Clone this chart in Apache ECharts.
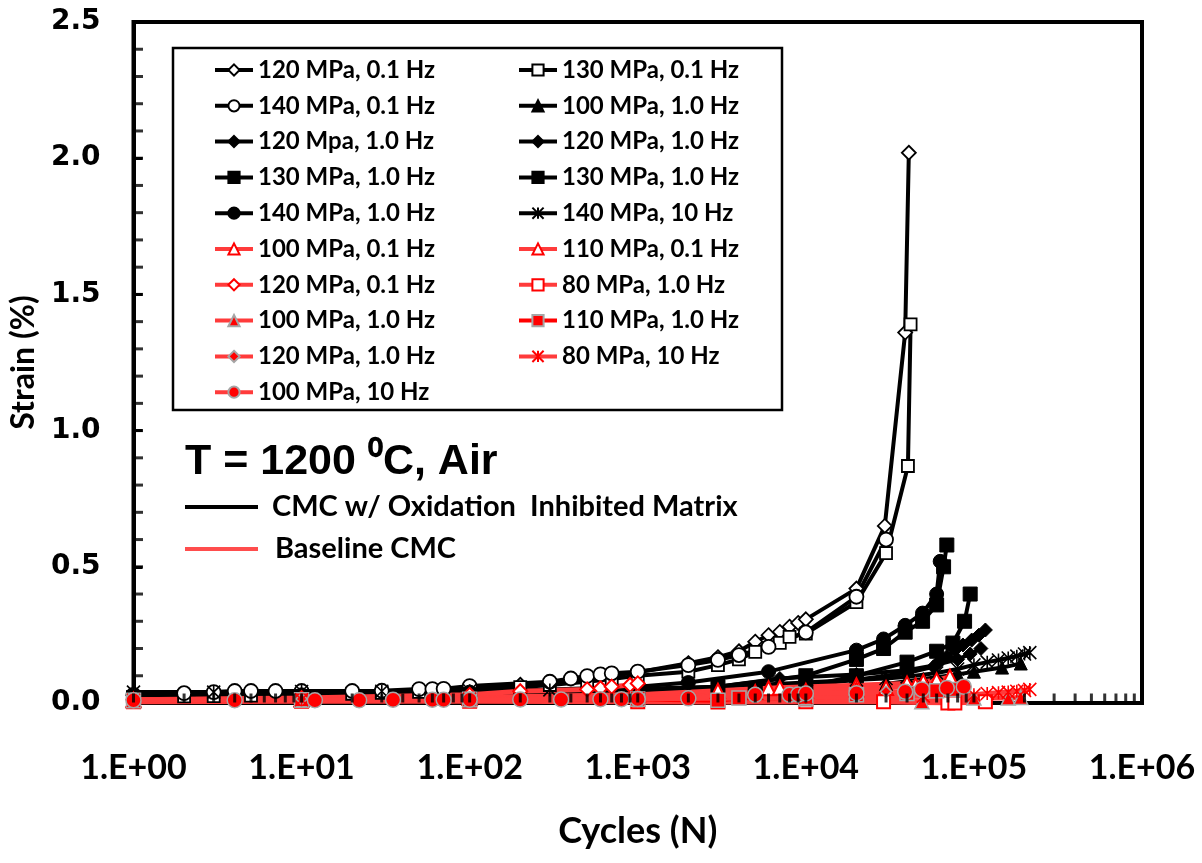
<!DOCTYPE html>
<html>
<head>
<meta charset="utf-8">
<script src="https://cdn.jsdelivr.net/npm/echarts@6/dist/echarts.min.js"></script>
<style>
  html, body { margin: 0; padding: 0; background: #fff; }
  #chart { width: 1202px; height: 863px; }
</style>
</head>
<body>
<div id="chart"></div>
<script>
// ---- Creep-fatigue strain accumulation data: [cycles, strain %] ----
// CMC with oxidation-inhibited matrix (black)
const cmc120_01 = [[1,0.028],[2,0.03],[3,0.031],[5,0.033],[10,0.036],[20,0.04],[30,0.043],[50,0.047],[100,0.056],[200,0.067],[300,0.076],[500,0.09],[700,0.1],[1000,0.113],[2000,0.146],[3000,0.168],[4000,0.19],[5000,0.225],[6000,0.249],[7000,0.261],[8000,0.28],[9000,0.294],[10000,0.307],[20000,0.42],[29500,0.65],[39000,1.36],[41000,2.02]];
const cmc130_01 = [[1,0.022],[2,0.024],[3,0.025],[5,0.027],[10,0.03],[20,0.034],[30,0.037],[50,0.041],[100,0.048],[200,0.058],[300,0.066],[500,0.078],[700,0.088],[1000,0.1],[2000,0.115],[3000,0.139],[4000,0.16],[5000,0.188],[7000,0.221],[8000,0.243],[10000,0.255],[20000,0.37],[30000,0.55],[40500,0.87],[42000,1.39]];
const cmc140_01 = [[1,0.03],[2,0.036],[3,0.04],[4,0.044],[5,0.044],[7,0.044],[10,0.044],[20,0.044],[30,0.045],[50,0.051],[60,0.051],[70,0.052],[100,0.062],[300,0.078],[400,0.09],[500,0.099],[600,0.105],[700,0.109],[1000,0.115],[2000,0.139],[3000,0.158],[4000,0.176],[6000,0.206],[10000,0.259],[20000,0.39],[30000,0.6]];
const cmc100_1 = [[1,0.015],[10,0.018],[100,0.022],[1000,0.03],[3000,0.036],[10000,0.05],[30000,0.07],[50000,0.088],[80000,0.105],[100000,0.115],[147000,0.13],[190000,0.145]];
const cmc120_1a = [[1,0.018],[10,0.022],[100,0.027],[1000,0.035],[5000,0.05],[10000,0.065],[20000,0.085],[40000,0.11],[57500,0.133],[62000,0.152],[69000,0.17],[77000,0.194],[86000,0.213],[97000,0.231],[107000,0.249],[117000,0.268]];
const cmc120_1b = [[1,0.016],[10,0.02],[100,0.025],[1000,0.04],[3000,0.06],[7000,0.09],[10000,0.095],[20000,0.105],[40000,0.12],[60000,0.14],[80000,0.16],[95000,0.18],[110000,0.2]];
const cmc130_1a = [[1,0.02],[10,0.024],[100,0.03],[1000,0.045],[3000,0.06],[10000,0.1],[20000,0.16],[29000,0.2],[39000,0.26],[49500,0.3],[60000,0.36],[66000,0.5],[69000,0.58]];
const cmc130_1b = [[1,0.015],[10,0.018],[100,0.023],[1000,0.03],[5000,0.045],[10000,0.06],[20000,0.1],[40000,0.15],[60000,0.19],[75000,0.22],[88000,0.3],[95000,0.4]];
const cmc140_1 = [[1,0.025],[10,0.03],[100,0.04],[1000,0.06],[2000,0.075],[6000,0.115],[20000,0.194],[29000,0.235],[39000,0.285],[49500,0.33],[60000,0.4],[63000,0.52]];
const cmc140_10 = [[1,0.04],[3,0.04],[10,0.042],[30,0.043],[100,0.045],[300,0.048],[1000,0.052],[3000,0.06],[10000,0.075],[20000,0.085],[30000,0.09],[40000,0.096],[60000,0.11],[80000,0.125],[100000,0.14],[120000,0.15],[140000,0.158],[160000,0.165],[180000,0.172],[200000,0.18],[215000,0.185]];
// Baseline CMC (red)
const base100_01 = [[1,0.01],[10,0.012],[100,0.018],[1000,0.03],[3000,0.045],[6000,0.054],[7000,0.056],[20000,0.065],[40000,0.072],[50000,0.078],[60000,0.084],[72000,0.096]];
const base110_01 = [[1,0.012],[10,0.015],[100,0.02],[1000,0.03],[5000,0.04],[10000,0.045],[20000,0.05],[30000,0.055],[45000,0.065]];
const base120_01 = [[1,0.012],[10,0.018],[100,0.03],[200,0.043],[500,0.05],[600,0.054],[700,0.06],[900,0.066],[1000,0.072]];
const base80_1 = [[1,0.005],[10,0.006],[100,0.006],[1000,0.005],[3000,0.004],[10000,0.005],[29000,0.005],[70000,0.0],[77000,0.0],[117000,0.005]];
const base100_1 = [[1,0.008],[10,0.01],[100,0.012],[1000,0.014],[10000,0.015],[49000,0.005],[100000,0.018],[160000,0.018],[190000,0.02]];
const base110_1 = [[1,0.01],[10,0.012],[100,0.014],[1000,0.015],[3000,0.01],[4000,0.018],[10000,0.02],[20000,0.03],[40000,0.035],[60000,0.045],[75000,0.05]];
const base120_1 = [[1,0.012],[10,0.015],[100,0.018],[1000,0.022],[5000,0.028],[10000,0.032],[20000,0.038],[30000,0.042]];
const base80_10 = [[1,0.01],[10,0.012],[100,0.014],[1000,0.016],[10000,0.02],[50000,0.025],[100000,0.03],[120000,0.035],[140000,0.038],[160000,0.04],[180000,0.043],[200000,0.046],[215000,0.05]];
const base100_10 = [[1,0.01],[4,0.01],[12,0.01],[22,0.01],[35,0.012],[60,0.012],[70,0.012],[100,0.012],[200,0.013],[350,0.013],[600,0.014],[800,0.014],[1000,0.015],[2000,0.017],[5000,0.03],[8000,0.03],[9000,0.031],[10000,0.035],[20000,0.036],[39000,0.041],[49000,0.05],[69000,0.055],[87000,0.06]];

// Legend labels, in series order (left column / right column alternate)
const seriesNames = [
  '120 MPa, 0.1 Hz', '130 MPa, 0.1 Hz',
  '140 MPa, 0.1 Hz', '100 MPa, 1.0 Hz',
  '120 Mpa, 1.0 Hz', '120 MPa, 1.0 Hz',
  '130 MPa, 1.0 Hz', '130 MPa, 1.0 Hz',
  '140 MPa, 1.0 Hz', '140 MPa, 10 Hz',
  '100 MPa, 0.1 Hz', '110 MPa, 0.1 Hz',
  '120 MPa, 0.1 Hz', '80 MPa, 1.0 Hz',
  '100 MPa, 1.0 Hz', '110 MPa, 1.0 Hz',
  '120 MPa, 1.0 Hz', '80 MPa, 10 Hz',
  '100 MPa, 10 Hz'
];
const seriesData = [
  cmc120_01, cmc130_01, cmc140_01, cmc100_1, cmc120_1a, cmc120_1b,
  cmc130_1a, cmc130_1b, cmc140_1, cmc140_10,
  base100_01, base110_01, base120_01, base80_1, base100_1, base110_1,
  base120_1, base80_10, base100_10
];
const yTickLabels = ['0.0', '0.5', '1.0', '1.5', '2.0', '2.5'];

// ---- styling ----
const BLACK = '#000000';
const RED_LINE = '#ff3b3b';
const RED = '#ff0000';
const GREY = '#a6a6a6';
const STAR = 'path://M5,0L5,10M0,0L10,10M10,0L0,10';

function blackOpen(symbol, size) {
  return { symbol, symbolSize: size, line: BLACK, lw: 4,
    item: { color: '#ffffff', borderColor: BLACK, borderWidth: 1.8 } };
}
function blackFilled(symbol, size) {
  return { symbol, symbolSize: size, line: BLACK, lw: 4,
    item: { color: BLACK, borderColor: BLACK, borderWidth: 1 } };
}
function redOpen(symbol, size) {
  return { symbol, symbolSize: size, line: RED_LINE, lw: 5,
    item: { color: '#ffffff', borderColor: RED, borderWidth: 2 } };
}
function redFilled(symbol, size, lineColor) {
  return { symbol, symbolSize: size, line: lineColor || RED_LINE, lw: 5,
    item: { color: RED, borderColor: GREY, borderWidth: 1.5 } };
}
const styles = [
  blackOpen('diamond', 14), blackOpen('rect', 12),
  blackOpen('circle', 14), blackFilled('triangle', 13),
  blackFilled('diamond', 14), blackFilled('diamond', 14),
  blackFilled('rect', 14), blackFilled('rect', 14),
  blackFilled('circle', 14),
  { symbol: STAR, symbolSize: 13, line: BLACK, lw: 4, item: { color: 'rgba(0,0,0,0)', borderColor: BLACK, borderWidth: 1.6 } },
  redOpen('triangle', 14), redOpen('triangle', 14),
  redOpen('diamond', 14), redOpen('rect', 13),
  redFilled('triangle', 14), redFilled('rect', 14, RED),
  redFilled('diamond', 11),
  { symbol: STAR, symbolSize: 13, line: RED_LINE, lw: 5, item: { color: 'rgba(0,0,0,0)', borderColor: RED, borderWidth: 1.6 } },
  redFilled('circle', 15)
];

// unique internal ids so repeated legend labels stay separate entries
const ids = seriesNames.map((n, i) => n + '\u200b'.repeat(i + 1));

const lineSeries = seriesData.map((d, i) => ({
  type: 'line',
  name: ids[i],
  data: d,
  symbol: styles[i].symbol,
  symbolSize: styles[i].symbolSize,
  showAllSymbol: true,
  lineStyle: { color: styles[i].line, width: styles[i].lw },
  itemStyle: styles[i].item,
  emphasis: { disabled: true },
  z: 2
}));

// decade and 2..9 sub-decade tick positions on the cycles axis
const xTickValues = [];
for (let k = 0; k <= 6; k++) {
  xTickValues.push([Math.pow(10, k), 0]);
  if (k < 6) for (let m = 2; m <= 9; m++) xTickValues.push([m * Math.pow(10, k), 0]);
}
// 0.1 steps on the strain axis
const yTickValues = [];
for (let i = 1; i < 25; i++) yTickValues.push([1, i / 10]);

// inward tick marks, positioned by the axes themselves
const xTickMarks = {
  type: 'scatter', data: xTickValues, silent: true, clip: false, z: 4,
  symbol: 'rect', symbolSize: [3, 9], symbolOffset: [0, -5],
  itemStyle: { color: BLACK }, emphasis: { disabled: true }
};
const yTickMarks = {
  type: 'scatter', data: yTickValues, silent: true, clip: false, z: 4,
  symbol: 'rect', symbolSize: [9, 3], symbolOffset: [5, 0],
  itemStyle: { color: BLACK }, emphasis: { disabled: true }
};

const legendText = { fontFamily: 'Lato', fontWeight: 'bold', fontSize: 24, color: '#000', lineHeight: 24 };
function legendCol(left, parity) {
  return {
    orient: 'vertical', left, top: 58, padding: 0,
    itemWidth: 38, itemHeight: 14, itemGap: 11.8,
    selectedMode: false,
    lineStyle: { width: 4 },
    data: ids.filter((_, i) => i % 2 === parity),
    formatter: (n) => n.replace(/\u200b/g, ''),
    textStyle: legendText
  };
}

const chart = echarts.init(document.getElementById('chart'), null, { renderer: 'canvas' });
chart.setOption({
  animation: false,
  backgroundColor: '#ffffff',
  grid: { left: 130, right: 60, top: 22, bottom: 160, show: true, borderColor: BLACK, borderWidth: 4, backgroundColor: 'transparent' },
  xAxis: {
    type: 'log', logBase: 10, min: 1, max: 1e6, splitNumber: 6,
    name: 'Cycles (N)', nameLocation: 'middle', nameGap: 110,
    nameTextStyle: { fontFamily: 'Lato', fontWeight: 'bold', fontSize: 36, color: '#000' },
    axisLine: { show: true, onZero: false, lineStyle: { color: BLACK, width: 4 } },
    axisTick: { show: true, inside: true, length: 9, lineStyle: { color: BLACK, width: 3 } },
    splitLine: { show: false },
    axisLabel: {
      margin: 48, color: '#000', fontFamily: 'Lato', fontWeight: 'bold', fontSize: 34,
      formatter: (v) => '1.E+' + String(Math.round(Math.log10(v))).padStart(2, '0')
    }
  },
  yAxis: {
    type: 'value', min: 0, max: 2.5, interval: 0.5,
    name: 'Strain (%)', nameLocation: 'middle', nameGap: 66, nameRotate: 90,
    nameTextStyle: { fontFamily: 'Lato', fontWeight: 'bold', fontSize: 32, color: '#000' },
    axisLine: { show: true, lineStyle: { color: BLACK, width: 4 } },
    axisTick: { show: true, inside: true, length: 9, lineStyle: { color: BLACK, width: 3 } },
    splitLine: { show: false },
    axisLabel: {
      margin: 33, color: '#000', fontFamily: 'DejaVu Sans', fontWeight: 'bold', fontSize: 28,
      formatter: (v) => yTickLabels[Math.round(v / 0.5)]
    }
  },
  legend: [legendCol(213, 0), legendCol(517, 1)],
  graphic: [
    { type: 'rect', shape: { x: 173, y: 48, width: 609, height: 362 },
      style: { fill: 'rgba(0,0,0,0)', stroke: BLACK, lineWidth: 2.5 }, z: 5 },
    { type: 'text', x: 185, y: 462,
      style: { text: 'T = 1200 \u2070C, Air', font: 'bold 43px "Liberation Sans", Arial, sans-serif', fill: '#000', verticalAlign: 'middle' }, z: 5 },
    { type: 'line', shape: { x1: 185, y1: 507, x2: 258, y2: 507 }, style: { stroke: BLACK, lineWidth: 4 }, z: 5 },
    { type: 'text', x: 272, y: 507,
      style: { text: 'CMC w/ Oxidation  Inhibited Matrix', font: 'bold 29px Lato, sans-serif', fill: '#000', verticalAlign: 'middle' }, z: 5 },
    { type: 'line', shape: { x1: 185, y1: 549, x2: 258, y2: 549 }, style: { stroke: '#ff4d4d', lineWidth: 4 }, z: 5 },
    { type: 'text', x: 275, y: 549,
      style: { text: 'Baseline CMC', font: 'bold 29px Lato, sans-serif', fill: '#000', verticalAlign: 'middle' }, z: 5 }
  ],
  series: [...lineSeries, xTickMarks, yTickMarks]
});
</script>
</body>
</html>
